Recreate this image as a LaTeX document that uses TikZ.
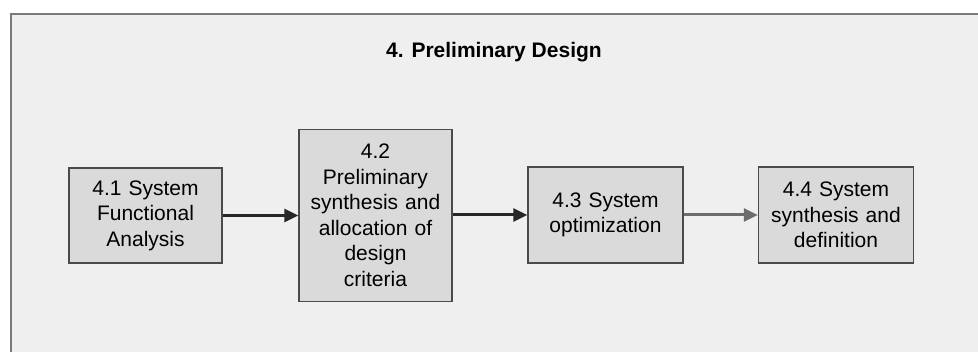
\documentclass[tikz,border=0pt]{standalone}
\usepackage{fontspec}
\setmainfont{Liberation Sans}
\usetikzlibrary{arrows.meta}
\definecolor{paper}{HTML}{EFEFEF}
\definecolor{boxfill}{HTML}{DADADA}
\definecolor{boxline}{HTML}{4A4A4A}
\definecolor{frameline}{HTML}{7A7A7A}
\definecolor{arrowdark}{HTML}{262626}
\definecolor{arrowgrey}{HTML}{6C6C6C}
\tikzset{
  stagebox/.style={draw=boxline, line width=1.4pt, fill=boxfill,
    inner sep=0pt, align=center, text width=150pt,
    font=\fontsize{21}{25.5}\selectfont},
  flow/.style={line width=3pt, -{Triangle[length=14pt,width=13pt]}},
}
\begin{document}
\begin{tikzpicture}[x=1pt,y=-1pt]
  \useasboundingbox (0,0) rectangle (978,352);
  % panel background and its visible top and left edges
  \fill[paper] (11,14) rectangle (978,352);
  \draw[frameline, line width=1.5pt] (978,14) -- (11,14) -- (11,352);
  % heading
  \node[font=\bfseries\fontsize{21}{25}\selectfont] (title) at (494,52) {4. Preliminary Design};
  % stages
  \node[stagebox, minimum width=153pt, minimum height=95pt] (s1) at (145.5,215.5)
    {4.1 System\\Functional\\Analysis};
  \node[stagebox, minimum width=153pt, minimum height=172pt] (s2) at (375.5,215.5)
    {4.2\\Preliminary\\synthesis and\\allocation of\\design\\criteria};
  \node[stagebox, minimum width=155pt, minimum height=96pt] (s3) at (605.5,215)
    {4.3 System\\optimization};
  \node[stagebox, minimum width=155pt, minimum height=96pt] (s4) at (836,215)
    {4.4 System\\synthesis and\\definition};
  % connectors
  \draw[flow, arrowdark] (s1.east) -- (s2.west |- s1.east);
  \draw[flow, arrowdark] (s2.east |- s3.west) -- (s3.west);
  \draw[flow, arrowgrey] (s3.east) -- (s4.west);
\end{tikzpicture}
\end{document}
